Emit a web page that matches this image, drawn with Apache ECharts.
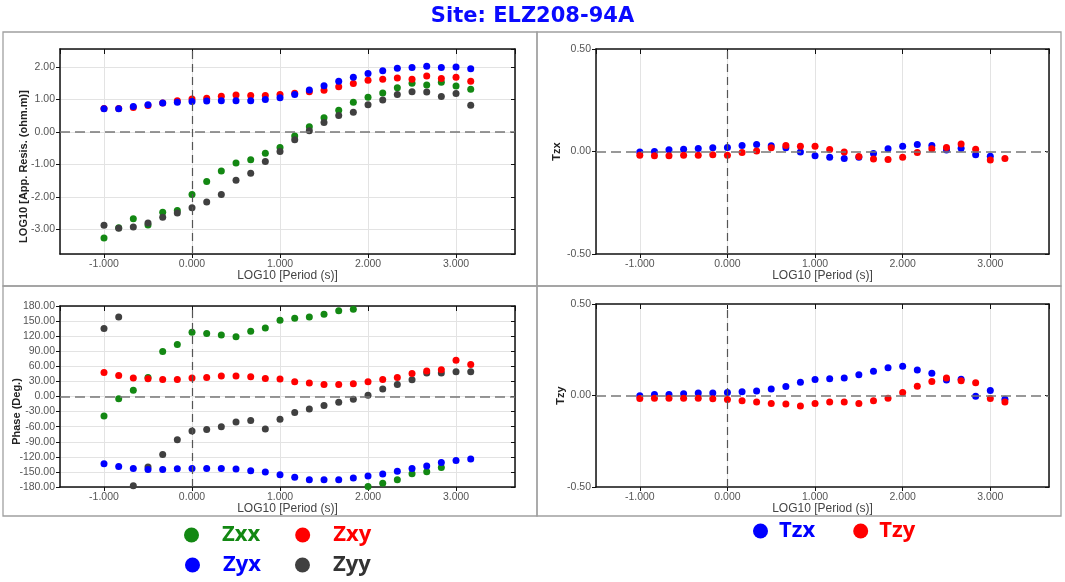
<!DOCTYPE html>
<html lang="en">
<head>
    <meta charset="UTF-8">
    <title>Site: ELZ208-94A</title>
    <style>
        html, body { margin: 0; padding: 0; background: #fff; }
    </style>
</head>
<body>
<div id="chartBox" style="width: 1065px;height: 582px;"></div>
<script type="text/javascript" src="https://cdn.jsdelivr.net/npm/echarts@6/dist/echarts.min.js"></script>
<script type="text/javascript">
    // log10 period (s)
    var periods = [-1.000, -0.833, -0.667, -0.500, -0.333, -0.167, 0.000, 0.167, 0.333, 0.500, 0.667, 0.833,
        1.000, 1.167, 1.333, 1.500, 1.667, 1.833, 2.000, 2.167, 2.333, 2.500, 2.667, 2.833, 3.000, 3.167];

    // log10 apparent resistivity
    var rhoZxx = [-3.26, -2.94, -2.67, -2.86, -2.47, -2.41, -1.92, -1.52, -1.20, -0.95, -0.85, -0.65,
        -0.48, -0.12, 0.16, 0.44, 0.67, 0.91, 1.07, 1.20, 1.36, 1.50, 1.44, 1.53, 1.41, 1.31];
    var rhoZxy = [0.72, 0.72, 0.75, 0.81, 0.89, 0.96, 1.01, 1.04, 1.10, 1.14, 1.12, 1.12,
        1.15, 1.19, 1.24, 1.28, 1.39, 1.49, 1.59, 1.62, 1.66, 1.62, 1.72, 1.64, 1.68, 1.56];
    var rhoZyx = [0.71, 0.71, 0.78, 0.84, 0.89, 0.91, 0.94, 0.95, 0.96, 0.96, 0.96, 1.00,
        1.05, 1.15, 1.29, 1.42, 1.56, 1.68, 1.80, 1.88, 1.96, 1.98, 2.02, 1.98, 2.00, 1.94];
    var rhoZyy = [-2.87, -2.96, -2.92, -2.80, -2.62, -2.49, -2.33, -2.15, -1.92, -1.48, -1.27, -0.91,
        -0.60, -0.24, 0.04, 0.29, 0.51, 0.61, 0.84, 0.98, 1.15, 1.24, 1.23, 1.09, 1.18, 0.82];

    // phase (deg)
    var phaseZxx = [-38.6, -4.3, 12.2, 38.0, 89.5, 103.4, 127.8, 125.2, 122.5, 118.6, 129.8, 136.4,
        151.6, 155.6, 158.2, 163.5, 170.8, 173.4, -179.0, -172.7, -165.4, -153.5, -149.6, -141.0, null, null];
    var phaseZxy = [47.9, 41.9, 36.7, 35.4, 34.0, 34.0, 36.7, 38.0, 40.6, 40.6, 39.3, 36.0,
        34.7, 29.4, 26.8, 24.1, 24.1, 25.4, 29.4, 34.0, 38.0, 45.9, 50.5, 53.2, 72.3, 63.8];
    var phaseZyx = [-133.8, -139.0, -143.0, -145.0, -145.0, -143.7, -143.0, -143.0, -143.0, -144.4, -147.6, -150.2,
        -155.5, -160.8, -165.4, -165.4, -165.4, -162.1, -158.2, -154.2, -148.9, -143.0, -138.4, -131.1, -127.1, -124.5];
    var phaseZyy = [135.1, 158.2, -177.4, -140.4, -115.3, -86.2, -68.4, -65.8, -60.4, -50.5, -47.9, -64.4,
        -45.2, -32.0, -24.8, -18.1, -11.5, -5.6, 2.3, 14.9, 24.1, 33.4, 46.6, 46.6, 49.2, 49.2];

    // tipper
    var tzxBlue = [-0.003, 0.000, 0.008, 0.011, 0.015, 0.018, 0.020, 0.029, 0.034, 0.028, 0.018, -0.002,
        -0.021, -0.028, -0.034, -0.028, -0.010, 0.013, 0.026, 0.034, 0.029, 0.007, 0.016, -0.016, -0.023, null];
    var tzxRed = [-0.018, -0.021, -0.021, -0.018, -0.018, -0.016, -0.018, -0.005, 0.003, 0.018, 0.029, 0.026,
        0.026, 0.010, -0.003, -0.024, -0.037, -0.039, -0.028, -0.005, 0.013, 0.020, 0.037, 0.011, -0.041, -0.034];
    var tzyBlue = [-0.002, 0.005, 0.005, 0.009, 0.013, 0.013, 0.016, 0.020, 0.024, 0.035, 0.049, 0.073,
        0.087, 0.091, 0.095, 0.113, 0.133, 0.151, 0.160, 0.140, 0.122, 0.085, 0.089, -0.004, 0.027, -0.020];
    var tzyRed = [-0.016, -0.015, -0.015, -0.015, -0.015, -0.018, -0.022, -0.029, -0.036, -0.044, -0.047, -0.058,
        -0.044, -0.036, -0.036, -0.044, -0.029, -0.015, 0.016, 0.051, 0.076, 0.095, 0.080, 0.069, -0.016, -0.036];

    var GREEN = '#138813', RED = '#ff0000', BLUE = '#0000ff', GREY = '#404040';
    var FONT = '"Open Sans", "DejaVu Sans", sans-serif';

    function pairs(ys) {
        var out = [];
        for (var i = 0; i < periods.length; i++) {
            if (ys[i] !== null) out.push([periods[i], ys[i]]);
        }
        return out;
    }

    // bottom + top x axes for one grid
    function xAxes(g) {
        return [{
            gridIndex: g, type: 'value', position: 'bottom', min: -1.5, max: 3.67, splitNumber: 5,
            name: 'LOG10 [Period (s)]', nameLocation: 'middle', nameGap: 16, nameMoveOverlap: false,
            nameTextStyle: {color: '#444', fontSize: 12, fontFamily: 'Liberation Sans'},
            axisLine: {onZero: false, lineStyle: {color: '#111', width: 1.5}},
            axisTick: {length: 4, lineStyle: {color: '#111'}},
            axisLabel: {margin: 5, color: '#555', fontSize: 10.5, fontFamily: 'Liberation Sans',
                showMinLabel: false, showMaxLabel: false,
                formatter: function (v) { return v.toFixed(3); }},
            splitLine: {show: true, lineStyle: {color: '#e3e3e3'}}
        }, {
            gridIndex: g, type: 'value', position: 'top', min: -1.5, max: 3.67, splitNumber: 5,
            axisLine: {onZero: false, lineStyle: {color: '#111', width: 1.5}},
            axisTick: {inside: true, length: 5, lineStyle: {color: '#111'}},
            axisLabel: {show: false}, splitLine: {show: false}
        }];
    }

    // left + right y axes for one grid
    function yAxes(g, opt) {
        var left = {
            gridIndex: g, type: 'value', position: 'left', min: opt.min, max: opt.max,
            name: opt.name, nameLocation: 'middle', nameGap: opt.nameGap, nameMoveOverlap: false,
            nameTextStyle: {color: '#222', fontSize: 11, fontWeight: 'bold', fontFamily: 'Liberation Sans',
                padding: opt.namePad || 0},
            axisLine: {onZero: false, lineStyle: {color: '#111', width: 1.5}},
            axisTick: {length: 4, lineStyle: {color: '#111'}},
            axisLabel: {margin: 5, color: '#555', fontSize: 10.5, fontFamily: 'Liberation Sans',
                showMinLabel: opt.showEnds, showMaxLabel: opt.showEnds,
                formatter: function (v) { return v.toFixed(2); }},
            splitLine: {show: opt.hSplit, lineStyle: {color: '#e3e3e3'}}
        };
        var right = {
            gridIndex: g, type: 'value', position: 'right', min: opt.min, max: opt.max,
            axisLine: {onZero: false, lineStyle: {color: '#111', width: 1.5}},
            axisTick: {inside: true, length: 4, lineStyle: {color: '#111'}},
            axisLabel: {show: false}, splitLine: {show: false}
        };
        if (opt.interval) { left.interval = opt.interval; right.interval = opt.interval; }
        if (opt.splitNumber) { left.splitNumber = opt.splitNumber; right.splitNumber = opt.splitNumber; }
        return [left, right];
    }

    function zeroLines(vColor) {
        return {
            silent: true, symbol: 'none', label: {show: false}, animation: false,
            data: [
                {xAxis: 0, lineStyle: {type: [8, 5], color: vColor, width: 1.2}},
                {yAxis: 0, lineStyle: {type: [10, 5], color: '#777', width: 1.5}}
            ]
        };
    }

    function dots(name, color, g, ys, withLines) {
        var s = {
            name: name, type: 'scatter', xAxisIndex: g * 2, yAxisIndex: g * 2,
            symbolSize: 7, itemStyle: {color: color, opacity: 1}, data: pairs(ys)
        };
        if (withLines) s.markLine = zeroLines('#555');
        return s;
    }

    var myChart = echarts.init(document.getElementById('chartBox'));

    myChart.setOption({
        animation: false,
        title: {
            text: 'Site: ELZ208-94A', left: 'center', top: 1,
            textStyle: {color: '#0a0aff', fontSize: 21, fontWeight: 'bold', fontFamily: '"DejaVu Sans", sans-serif'}
        },
        legend: [{
            left: 184, top: 524, padding: 0, icon: 'circle', itemWidth: 15, itemHeight: 15, itemGap: 35,
            selectedMode: false,
            textStyle: {fontSize: 22, fontWeight: 'bold', fontFamily: FONT, padding: [0, 0, 0, 18]},
            data: [{name: 'Zxx', textStyle: {color: GREEN}}, {name: 'Zxy', textStyle: {color: RED}}]
        }, {
            left: 185, top: 554, padding: 0, icon: 'circle', itemWidth: 15, itemHeight: 15, itemGap: 34,
            selectedMode: false,
            textStyle: {fontSize: 22, fontWeight: 'bold', fontFamily: FONT, padding: [0, 0, 0, 18]},
            data: [{name: 'Zyx', textStyle: {color: BLUE}}, {name: 'Zyy', textStyle: {color: '#333'}}]
        }, {
            left: 753, top: 520, padding: 0, icon: 'circle', itemWidth: 15, itemHeight: 15, itemGap: 38,
            selectedMode: false,
            textStyle: {fontSize: 22, fontWeight: 'bold', fontFamily: FONT, padding: [0, 0, 0, 6]},
            data: [{name: 'Tzx', textStyle: {color: BLUE}}, {name: 'Tzy', textStyle: {color: RED}}]
        }],
        graphic: [
            {type: 'rect', silent: true, shape: {x: 3, y: 32, width: 534, height: 254},
                style: {fill: 'none', stroke: '#a0a0a0', lineWidth: 1.3}},
            {type: 'rect', silent: true, shape: {x: 537, y: 32, width: 524, height: 254},
                style: {fill: 'none', stroke: '#a0a0a0', lineWidth: 1.3}},
            {type: 'rect', silent: true, shape: {x: 3, y: 286, width: 534, height: 230},
                style: {fill: 'none', stroke: '#a0a0a0', lineWidth: 1.3}},
            {type: 'rect', silent: true, shape: {x: 537, y: 286, width: 524, height: 230},
                style: {fill: 'none', stroke: '#a0a0a0', lineWidth: 1.3}}
        ],
        grid: [
            {left: 60, top: 49, width: 455, height: 205},
            {left: 596, top: 49, width: 453, height: 205},
            {left: 60, top: 306, width: 455, height: 181},
            {left: 596, top: 304, width: 453, height: 183}
        ],
        xAxis: [].concat(xAxes(0), xAxes(1), xAxes(2), xAxes(3)),
        yAxis: [].concat(
            yAxes(0, {min: -3.75, max: 2.55, splitNumber: 6, name: 'LOG10 [App. Resis. (ohm.m)]',
                nameGap: 31, namePad: [0, 30, 0, 0], showEnds: false, hSplit: true}),
            yAxes(1, {min: -0.5, max: 0.5, interval: 0.5, name: 'Tzx', nameGap: 34, showEnds: true, hSplit: false}),
            yAxes(2, {min: -180, max: 180, interval: 30, name: 'Phase (Deg.)',
                nameGap: 38, namePad: [0, 30, 0, 0], showEnds: true, hSplit: true}),
            yAxes(3, {min: -0.5, max: 0.5, interval: 0.5, name: 'Tzy', nameGap: 30, showEnds: true, hSplit: false})
        ),
        series: [
            dots('Zxx', GREEN, 0, rhoZxx, true),
            dots('Zyy', GREY, 0, rhoZyy),
            dots('Zxy', RED, 0, rhoZxy),
            dots('Zyx', BLUE, 0, rhoZyx),

            dots('Tzx', BLUE, 1, tzxBlue, true),
            dots('Tzy', RED, 1, tzxRed),

            dots('Zxx', GREEN, 2, phaseZxx, true),
            dots('Zyy', GREY, 2, phaseZyy),
            dots('Zxy', RED, 2, phaseZxy),
            dots('Zyx', BLUE, 2, phaseZyx),

            dots('Tzx', BLUE, 3, tzyBlue, true),
            dots('Tzy', RED, 3, tzyRed)
        ]
    });
</script>
</body>
</html>
